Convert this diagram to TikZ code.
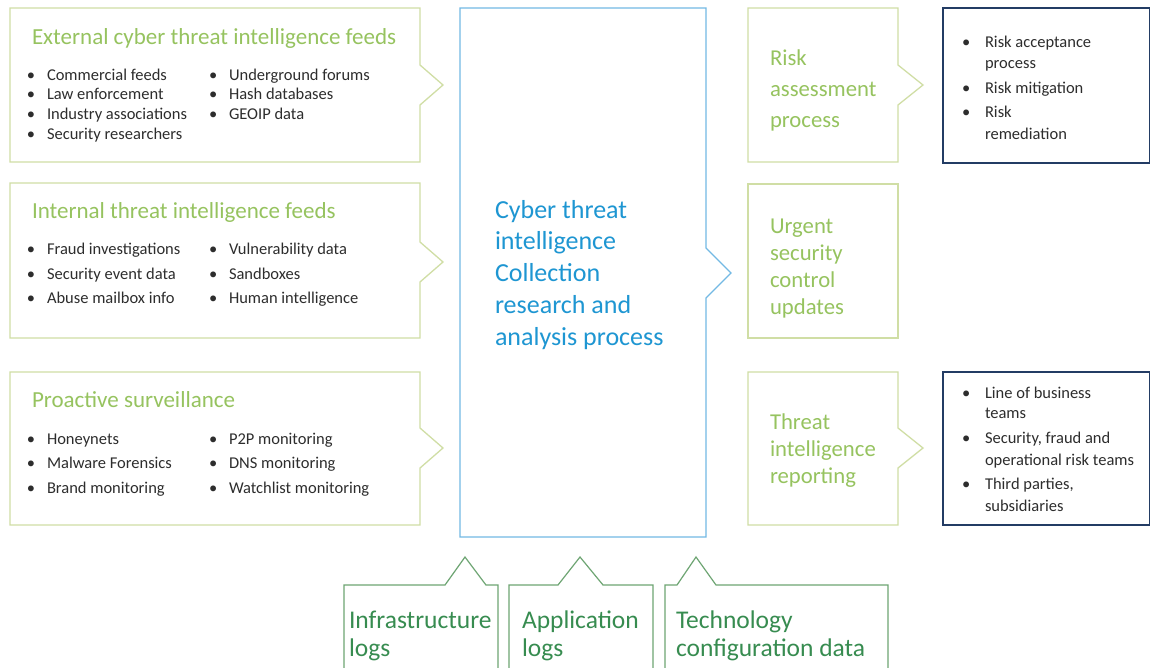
\documentclass[tikz,border=0pt]{standalone}
\usepackage{fontspec}
\setmainfont{Carlito}
\definecolor{lgreen}{RGB}{150,195,95}
\definecolor{lline}{RGB}{208,222,165}
\definecolor{dgreen}{RGB}{55,140,80}
\definecolor{dline}{RGB}{110,165,115}
\definecolor{cblue}{RGB}{30,150,210}
\definecolor{bline}{RGB}{115,185,228}
\definecolor{navy}{RGB}{35,60,100}
\definecolor{txt}{RGB}{45,45,45}
\begin{document}
\begin{tikzpicture}[x=1pt,y=-1pt,
  every node/.style={inner sep=0pt,outer sep=0pt,anchor=base west},
  lbox/.style={draw=lline,line width=1.3pt},
  cbox/.style={draw=bline,line width=1.2pt},
  nbox/.style={draw=navy,line width=1.1pt},
  dbox/.style={draw=dline,line width=1.2pt},
  head/.style={text=lgreen,font=\fontsize{23}{27}\selectfont},
  rtitle/.style={text=lgreen,font=\fontsize{22.7}{27}\selectfont},
  item/.style={text=txt,font=\fontsize{16.5}{20}\selectfont},
  ctext/.style={text=cblue,font=\fontsize{26}{31.7}\selectfont,align=left},
  btext/.style={text=dgreen,font=\fontsize{25.5}{28}\selectfont,align=left}]
\useasboundingbox (0,0) rectangle (1150,667);
\fill[white] (0,0) rectangle (1150,667);

% left boxes
\draw[lbox] (10,8) -- (420,8) -- (420,65) -- (443,85) -- (420,105) -- (420,162) -- (10,162) -- cycle;
\draw[lbox] (10,183) -- (420,183) -- (420,242) -- (443,262) -- (420,282) -- (420,338) -- (10,338) -- cycle;
\draw[lbox] (10,372) -- (420,372) -- (420,428) -- (443,448) -- (420,468) -- (420,525) -- (10,525) -- cycle;

% center box
\draw[cbox] (460,8) -- (706,8) -- (706,248) -- (731,273) -- (706,298) -- (706,537) -- (460,537) -- cycle;

% right green boxes
\draw[lbox] (748,8) -- (898,8) -- (898,65) -- (923,85) -- (898,105) -- (898,162) -- (748,162) -- cycle;
\draw[lbox] (748,184) rectangle (898,338);
\draw[lbox] (748,372) -- (898,372) -- (898,428) -- (923,448) -- (898,468) -- (898,525) -- (748,525) -- cycle;

% navy boxes
\draw[nbox] (943,8) rectangle (1150,163);
\draw[nbox] (943,372) rectangle (1150,525);

% bottom boxes
\draw[dbox] (344,680) -- (344,585) -- (445,585) -- (465,557) -- (486,585) -- (498,585) -- (498,680);
\draw[dbox] (509,680) -- (509,585) -- (558,585) -- (580,557) -- (603,585) -- (653,585) -- (653,680);
\draw[dbox] (665,680) -- (665,585) -- (677,585) -- (696,557) -- (716,585) -- (888,585) -- (888,680);

% left headings
\node[head] (h1) at (32,44) {External cyber threat intelligence feeds};
\node[head] (h2) at (32,218) {Internal threat intelligence feeds};
\node[head] (h3) at (32,407) {Proactive surveillance};

% left items
\foreach \t [count=\i, evaluate=\i as \yy using 80+19.7*(\i-1)] in
  {Commercial feeds, Law enforcement, Industry associations, Security researchers}
  {\node[item] (a1b\i) at (27,\yy) {•}; \node[item] (a1\i) at (47,\yy) {\t};}
\foreach \t [count=\i, evaluate=\i as \yy using 80+19.7*(\i-1)] in
  {Underground forums, Hash databases, GEOIP data}
  {\node[item] (b1b\i) at (209,\yy) {•}; \node[item] (b1\i) at (229,\yy) {\t};}
\foreach \t [count=\i, evaluate=\i as \yy using 254.5+24.5*(\i-1)] in
  {Fraud investigations, Security event data, Abuse mailbox info}
  {\node[item] (a2b\i) at (27,\yy) {•}; \node[item] (a2\i) at (47,\yy) {\t};}
\foreach \t [count=\i, evaluate=\i as \yy using 254.5+24.5*(\i-1)] in
  {Vulnerability data, Sandboxes, Human intelligence}
  {\node[item] (b2b\i) at (209,\yy) {•}; \node[item] (b2\i) at (229,\yy) {\t};}
\foreach \t [count=\i, evaluate=\i as \yy using 444+24.5*(\i-1)] in
  {Honeynets, Malware Forensics, Brand monitoring}
  {\node[item] (a3b\i) at (27,\yy) {•}; \node[item] (a3\i) at (47,\yy) {\t};}
\foreach \t [count=\i, evaluate=\i as \yy using 444+24.5*(\i-1)] in
  {P2P monitoring, DNS monitoring, Watchlist monitoring}
  {\node[item] (b3b\i) at (209,\yy) {•}; \node[item] (b3\i) at (229,\yy) {\t};}

% center text (anchor base = last line)
\node[ctext] (core) at (495,345) {Cyber threat\\intelligence\\Collection\\research and\\analysis process};

% right titles (anchor base = last line)
\node[rtitle,align=left] (risk) at (770,127) {Risk\\[4pt]assessment\\[4pt]process};
\node[rtitle,align=left] (urgent) at (770,314) {Urgent\\security\\control\\updates};
\node[rtitle,align=left] (threat) at (770,483) {Threat\\intelligence\\reporting};

% right items
\node[item] (r1b1) at (962,47) {•};
\node[item] (r11) at (985,47) {Risk acceptance};
\node[item] (r12) at (985,68) {process};
\node[item] (r1b2) at (962,93) {•};
\node[item] (r13) at (985,93) {Risk mitigation};
\node[item] (r1b3) at (962,117) {•};
\node[item] (r14) at (985,117) {Risk};
\node[item] (r15) at (985,139) {remediation};

\node[item] (r3b1) at (962,398) {•};
\node[item] (r31) at (985,398) {Line of business};
\node[item] (r32) at (985,418) {teams};
\node[item] (r3b2) at (962,443) {•};
\node[item] (r33) at (985,443) {Security, fraud and};
\node[item] (r34) at (985,465) {operational risk teams};
\node[item] (r3b3) at (962,489) {•};
\node[item] (r35) at (985,489) {Third parties,};
\node[item] (r36) at (985,511) {subsidiaries};

% bottom texts (anchor base = last line)
\node[btext] (infra) at (349,656) {Infrastructure\\logs};
\node[btext] (app) at (522,656) {Application\\logs};
\node[btext] (tech) at (676,656) {Technology\\configuration data};
\end{tikzpicture}
\end{document}
